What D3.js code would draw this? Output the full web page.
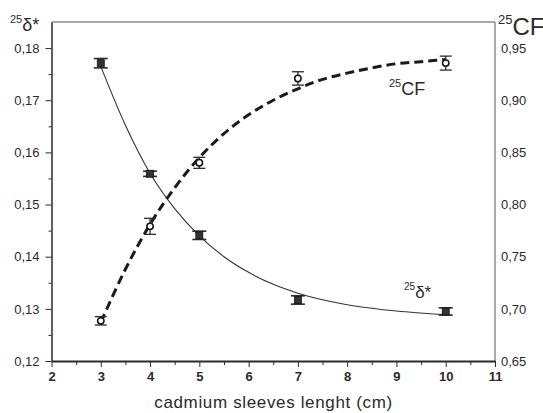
<!DOCTYPE html>
<html>
<head>
<meta charset="utf-8">
<script src="https://cdn.jsdelivr.net/npm/d3@7"></script>
<style>
  body { margin: 0; background: #fff; }
  svg { display: block; font-family: "Liberation Sans", Arial, sans-serif; }
</style>
</head>
<body>
<svg id="chart" width="543" height="413"></svg>
<script>
// measured points
const lengths = [3, 4, 5, 7, 10];
const deltaVals = [0.1771, 0.1559, 0.1441, 0.1317, 0.1295];
const deltaErr = [0.0009, 0.0005, 0.0008, 0.0008, 0.0007];
const cfVals = [0.6885, 0.7791, 0.8400, 0.9209, 0.9356];
const cfErr = [0.004, 0.0077, 0.0053, 0.0064, 0.0067];

// fitted curves
const deltaFitX = [3, 3.5, 4, 4.5, 5, 5.5, 6, 6.5, 7, 8, 9, 10];
const deltaFitY = [0.1765, 0.1652, 0.1560, 0.1492, 0.1440, 0.1400, 0.1370, 0.1347, 0.1330, 0.1308, 0.1296, 0.1289];
const cfFitX = [3, 3.5, 4, 4.5, 5, 5.5, 6, 6.5, 7, 7.5, 8, 8.5, 9, 9.5, 10];
const cfFitY = [0.687, 0.738, 0.781, 0.816, 0.845, 0.868, 0.886, 0.900, 0.911, 0.920, 0.926, 0.931, 0.935, 0.937, 0.939];

const xTicks = [2, 3, 4, 5, 6, 7, 8, 9, 10, 11];
const leftTicks = [0.12, 0.13, 0.14, 0.15, 0.16, 0.17, 0.18];
const rightTicks = [0.65, 0.70, 0.75, 0.80, 0.85, 0.90, 0.95];

const svg = d3.select('#chart');
const ink = '#2a2a2a';
const margin = {left: 51.5, right: 495, top: 22, bottom: 361};

const x = d3.scaleLinear().domain([2, 11]).range([margin.left, margin.right]);
const yL = d3.scaleLinear().domain([0.12, 0.185]).range([margin.bottom, margin.top]);
const yR = d3.scaleLinear().domain([0.65, 0.975]).range([margin.bottom, margin.top]);
const comma = f => d => d3.format(f)(d).replace('.', ',');

// frame top/right
svg.append('path')
    .attr('d', `M${margin.left},${margin.top}H${margin.right}V${margin.bottom}`)
    .attr('fill', 'none').attr('stroke', '#555').attr('stroke-width', 1);

// minor ticks
svg.append('g').attr('transform', `translate(0,${margin.bottom})`)
    .call(d3.axisBottom(x).tickValues(d3.range(2.5, 11, 1)).tickSize(4).tickFormat(''))
    .call(g => g.select('.domain').remove());
svg.append('g').attr('transform', `translate(${margin.left},0)`)
    .call(d3.axisLeft(yL).tickValues(d3.range(0.125, 0.185, 0.01)).tickSize(3).tickFormat(''))
    .call(g => g.select('.domain').remove());

const xAxis = svg.append('g').attr('transform', `translate(0,${margin.bottom})`)
    .call(d3.axisBottom(x).tickValues(xTicks).tickSize(6).tickSizeOuter(0).tickPadding(5).tickFormat(d3.format('d')));
xAxis.selectAll('text').attr('font-size', 13).attr('font-weight', 'bold');
xAxis.select('.domain').attr('stroke-width', 2);

const yAxis = svg.append('g').attr('transform', `translate(${margin.left},0)`)
    .call(d3.axisLeft(yL).tickValues(leftTicks).tickSize(6).tickSizeOuter(0).tickPadding(6).tickFormat(comma('.2f')));
yAxis.selectAll('text').attr('font-size', 13);
yAxis.select('.domain').attr('stroke-width', 1.5);

const rAxis = svg.append('g').attr('transform', `translate(${margin.right},0)`)
    .call(d3.axisRight(yR).tickValues(rightTicks).tickSize(0).tickPadding(6).tickFormat(comma('.2f')));
rAxis.selectAll('text').attr('font-size', 13);
rAxis.select('.domain').remove();

svg.selectAll('.tick line, .domain').attr('stroke', ink);
svg.selectAll('.tick text').attr('fill', ink).attr('font-family', '"Liberation Sans", Arial, sans-serif');

// fits
const dLine = d3.line().x(d => x(d[0])).y(d => yL(d[1])).curve(d3.curveMonotoneX);
const cLine = d3.line().x(d => x(d[0])).y(d => yR(d[1])).curve(d3.curveMonotoneX);

svg.append('path')
    .attr('d', dLine(d3.zip(deltaFitX, deltaFitY)))
    .attr('fill', 'none').attr('stroke', '#333').attr('stroke-width', 1.1);
svg.append('path')
    .attr('d', cLine(d3.zip(cfFitX, cfFitY)))
    .attr('fill', 'none').attr('stroke', '#1a1a1a').attr('stroke-width', 3)
    .attr('stroke-dasharray', '9,5');

// error bars
function errBars(vals, errs, y, cap, w) {
    const g = svg.append('g').attr('stroke', ink).attr('stroke-width', w);
    lengths.forEach((l, i) => {
        const cx = x(l), lo = y(vals[i] - errs[i]), hi = y(vals[i] + errs[i]);
        g.append('line').attr('x1', cx).attr('x2', cx).attr('y1', lo).attr('y2', hi);
        g.append('line').attr('x1', cx - cap).attr('x2', cx + cap).attr('y1', lo).attr('y2', lo);
        g.append('line').attr('x1', cx - cap).attr('x2', cx + cap).attr('y1', hi).attr('y2', hi);
    });
}
errBars(deltaVals, deltaErr, yL, 7, 1.6);
errBars(cfVals, cfErr, yR, 6, 1.3);

svg.selectAll('.sq').data(lengths).join('rect')
    .attr('x', d => x(d) - 3.5).attr('y', (d, i) => yL(deltaVals[i]) - 3.5)
    .attr('width', 7).attr('height', 7)
    .attr('fill', '#333').attr('stroke', '#111').attr('stroke-width', 0.8);

svg.selectAll('.ci').data(lengths).join('circle')
    .attr('cx', d => x(d)).attr('cy', (d, i) => yR(cfVals[i]))
    .attr('r', 3.2)
    .attr('fill', '#fff').attr('stroke', '#111').attr('stroke-width', 1.5);

// labels with isotope superscript
function isoLabel(px, py, sup, main, size, supSize) {
    const t = svg.append('text').attr('x', px).attr('y', py).attr('fill', ink);
    t.append('tspan').attr('font-size', supSize).attr('dy', -size * 0.45).text(sup);
    t.append('tspan').attr('font-size', size).attr('dy', size * 0.45).text(main);
}
isoLabel(10, 31, '25', 'δ*', 18, 11);
isoLabel(498, 35, '25', 'CF', 24, 13);
isoLabel(389, 95, '25', 'CF', 18, 11);
isoLabel(404, 298, '25', 'δ*', 17, 10);

svg.append('text')
    .attr('x', (margin.left + margin.right) / 2).attr('y', 408)
    .attr('text-anchor', 'middle').attr('font-size', 17).attr('fill', ink)
    .attr('textLength', 238).attr('lengthAdjust', 'spacing')
    .text('cadmium sleeves lenght (cm)');
</script>
</body>
</html>
